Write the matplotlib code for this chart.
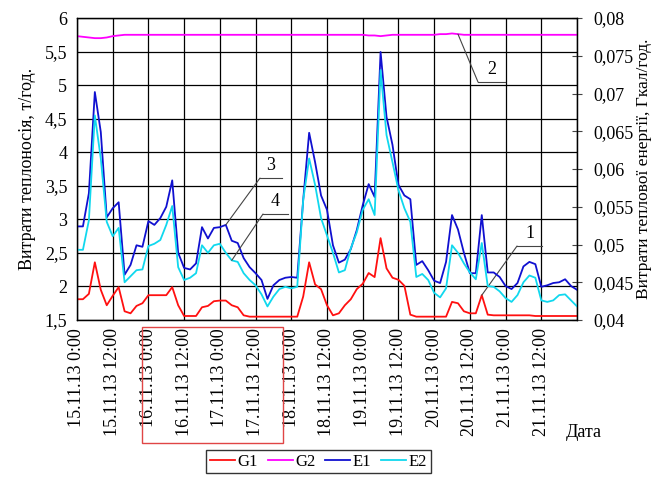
import numpy as np
import matplotlib
matplotlib.use('Agg')
import matplotlib.pyplot as plt
from matplotlib.ticker import FuncFormatter, MultipleLocator
from matplotlib.patches import Rectangle

plt.rcParams['font.family'] = ['Liberation Serif', 'DejaVu Serif']

# hours since 15.11.13 0:00, sampled every 2 hours
hours = np.arange(0, 170, 2)

# coolant flow, t/h (left axis)
G1 = [1.81, 1.81, 1.89, 2.36, 1.95, 1.72, 1.86, 1.99, 1.63, 1.60,
      1.71, 1.75, 1.87, 1.87, 1.87, 1.87, 1.99, 1.72, 1.56, 1.56,
      1.56, 1.69, 1.71, 1.78, 1.79, 1.79, 1.72, 1.69, 1.57, 1.55,
      1.55, 1.55, 1.55, 1.55, 1.55, 1.55, 1.55, 1.55, 1.85, 2.36,
      2.03, 1.96, 1.72, 1.57, 1.60, 1.72, 1.81, 1.96, 2.04, 2.20,
      2.14, 2.72, 2.27, 2.13, 2.10, 2.01, 1.58, 1.55, 1.55, 1.55,
      1.55, 1.55, 1.55, 1.77, 1.75, 1.63, 1.60, 1.60, 1.87, 1.58,
      1.57, 1.57, 1.57, 1.57, 1.57, 1.57, 1.57, 1.56, 1.56, 1.56,
      1.56, 1.56, 1.56, 1.56, 1.56]
G2 = [5.73, 5.72, 5.71, 5.70, 5.70, 5.71, 5.73, 5.74, 5.75, 5.75,
      5.75, 5.75, 5.75, 5.75, 5.75, 5.75, 5.75, 5.75, 5.75, 5.75,
      5.75, 5.75, 5.75, 5.75, 5.75, 5.75, 5.75, 5.75, 5.75, 5.75,
      5.75, 5.75, 5.75, 5.75, 5.75, 5.75, 5.75, 5.75, 5.75, 5.75,
      5.75, 5.75, 5.75, 5.75, 5.75, 5.75, 5.75, 5.75, 5.75, 5.74,
      5.74, 5.73, 5.74, 5.75, 5.75, 5.75, 5.75, 5.75, 5.75, 5.75,
      5.75, 5.76, 5.76, 5.77, 5.76, 5.75, 5.75, 5.75, 5.75, 5.75,
      5.75, 5.75, 5.75, 5.75, 5.75, 5.75, 5.75, 5.75, 5.75, 5.75,
      5.75, 5.75, 5.75, 5.75, 5.75]

# heat consumption, Gcal/h (right axis)
E1 = [0.0524, 0.0524, 0.0568, 0.0702, 0.0649, 0.0536, 0.0548, 0.0556, 0.0460, 0.0473,
      0.0499, 0.0497, 0.0531, 0.0526, 0.0535, 0.0550, 0.0585, 0.0489, 0.0469, 0.0467,
      0.0475, 0.0523, 0.0508, 0.0522, 0.0523, 0.0526, 0.0505, 0.0502, 0.0482, 0.0470,
      0.0462, 0.0453, 0.0428, 0.0446, 0.0453, 0.0456, 0.0457, 0.0456, 0.0559, 0.0648,
      0.0609, 0.0565, 0.0546, 0.0499, 0.0476, 0.0480, 0.0494, 0.0519, 0.0552, 0.0580,
      0.0563, 0.0755, 0.0669, 0.0632, 0.0579, 0.0565, 0.0560, 0.0473, 0.0478, 0.0466,
      0.0452, 0.0449, 0.0477, 0.0539, 0.0520, 0.0489, 0.0462, 0.0462, 0.0539, 0.0463,
      0.0463, 0.0457, 0.0445, 0.0441, 0.0449, 0.0471, 0.0477, 0.0474, 0.0444, 0.0446,
      0.0449, 0.0450, 0.0454, 0.0445, 0.0440]
E2 = [0.0493, 0.0493, 0.0532, 0.0671, 0.0614, 0.0530, 0.0511, 0.0522, 0.0450, 0.0458,
      0.0466, 0.0467, 0.0498, 0.0501, 0.0506, 0.0526, 0.0551, 0.0470, 0.0453, 0.0456,
      0.0462, 0.0499, 0.0489, 0.0499, 0.0501, 0.0489, 0.0479, 0.0477, 0.0462, 0.0453,
      0.0446, 0.0434, 0.0418, 0.0431, 0.0441, 0.0444, 0.0442, 0.0444, 0.0559, 0.0614,
      0.0579, 0.0535, 0.0512, 0.0489, 0.0463, 0.0466, 0.0495, 0.0516, 0.0546, 0.0560,
      0.0539, 0.0731, 0.0645, 0.0609, 0.0572, 0.0548, 0.0530, 0.0457, 0.0461, 0.0453,
      0.0436, 0.0430, 0.0442, 0.0499, 0.0489, 0.0475, 0.0463, 0.0454, 0.0502, 0.0445,
      0.0444, 0.0438, 0.0429, 0.0424, 0.0433, 0.0450, 0.0459, 0.0456, 0.0426, 0.0424,
      0.0426, 0.0433, 0.0434, 0.0426, 0.0418]

tick_labels = ['15.11.13 0:00', '15.11.13 12:00', '16.11.13 0:00', '16.11.13 12:00',
               '17.11.13 0:00', '17.11.13 12:00', '18.11.13 0:00', '18.11.13 12:00',
               '19.11.13 0:00', '19.11.13 12:00', '20.11.13 0:00', '20.11.13 12:00',
               '21.11.13 0:00', '21.11.13 12:00', '']

comma = FuncFormatter(lambda v, p: f'{v:g}'.replace('.', ','))

fig = plt.figure(figsize=(6.54, 4.78), dpi=100)
ax = fig.add_axes([0.1177, 0.3305, 0.7646, 0.6318])
ax2 = ax.twinx()

l1, = ax.plot(hours, G1, color='#ff1010', lw=1.3, label='G1')
l2, = ax.plot(hours, G2, color='#ff00ff', lw=1.3, label='G2')
l3, = ax2.plot(hours, E1, color='#1010d0', lw=1.3, label='E1')
l4, = ax2.plot(hours, E2, color='#10d8ee', lw=1.3, label='E2')

ax.set_xlim(0, 168)
ax.set_ylim(1.5, 6)
ax2.set_ylim(0.04, 0.08)
ax.set_xticks(np.arange(0, 169, 12))
ax.set_xticklabels(tick_labels, rotation=90)
ax.yaxis.set_major_locator(MultipleLocator(0.5))
ax2.yaxis.set_major_locator(MultipleLocator(0.005))
ax.yaxis.set_major_formatter(comma)
ax2.yaxis.set_major_formatter(comma)
ax.tick_params(axis='both', length=0, labelsize=13, pad=7)
ax.tick_params(axis='x', pad=6, labelsize=13)
ax2.tick_params(axis='y', direction='inout', length=7, width=0.8,
                color='#444444', labelsize=13, pad=8)

ax.grid(True, color='black', lw=0.9)
for a in (ax, ax2):
    for s in a.spines.values():
        s.set_color('black')
        s.set_linewidth(0.9)

ax.set_ylabel('Витрати теплоносія, т/год.', fontsize=13, labelpad=6)
ax2.set_ylabel('Витрати теплової енергії, Гкал/год.', fontsize=12.5,
               va='center')
ax2.yaxis.set_label_coords(1.133, 0.5)
fig.text(0.865, 0.085, 'Дата', fontsize=13)

# numbered leaders pointing at each curve
lead = dict(arrowstyle='-', color='#444444', lw=0.8, shrinkA=0, shrinkB=0)
marks = [(ax, '1', hours[68], G1[68], (0.880, 0.245), 0.93),
         (ax, '2', hours[64], G2[64], (0.802, 0.788), 0.856),
         (ax2, '3', hours[25], E1[25], (0.366, 0.470), 0.41),
         (ax2, '4', hours[26], E2[26], (0.372, 0.351), 0.422)]
for a, txt, hx, hy, knee, x_end in marks:
    a.annotate('', xy=(hx, hy), xytext=knee, textcoords='axes fraction',
               arrowprops=lead)
    ax2.plot([knee[0], x_end], [knee[1], knee[1]], color='#444444', lw=0.8,
             transform=ax2.transAxes, clip_on=False)
    ax2.text((knee[0] + x_end) / 2, knee[1] + 0.012, txt, fontsize=13,
             ha='center', va='bottom', transform=ax2.transAxes)

fig.legend(handles=[l1, l2, l3, l4], loc='upper center', ncol=4,
           bbox_to_anchor=(0.487, 0.058), fontsize=12, frameon=True,
           fancybox=False, edgecolor='black', handlelength=1.5,
           handletextpad=0.15, columnspacing=0.6, borderpad=0.2,
           borderaxespad=0)

fig.patches.append(Rectangle((0.217, 0.073), 0.2156, 0.2427, fill=False,
                             edgecolor='#e04545', lw=1, transform=fig.transFigure))

fig.savefig('out.png', dpi=100)
